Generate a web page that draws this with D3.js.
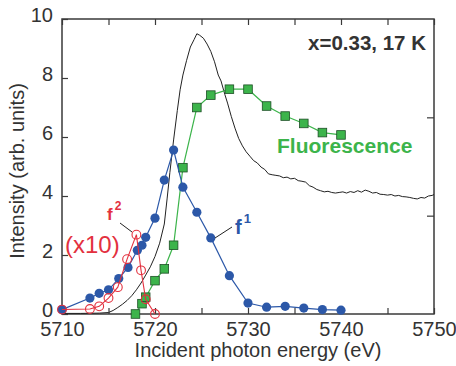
<!DOCTYPE html>
<html>
<head>
<meta charset="utf-8">
<script src="https://cdn.jsdelivr.net/npm/d3@7"></script>
<style>
  body { margin: 0; background: #fff; }
  text { font-family: "Liberation Sans", Arial, sans-serif; }
</style>
</head>
<body>
<svg id="chart" width="456" height="366"></svg>
<script>
// f1 (blue filled circles)
const f1Energy = [5710, 5713, 5714, 5715, 5716.1, 5717.1, 5718.1, 5718.6, 5719, 5720, 5721, 5722, 5723, 5724.5, 5726, 5728, 5730, 5732, 5734, 5736, 5738, 5740];
const f1Value = [0.15, 0.54, 0.7, 0.82, 1.2, 1.58, 2.16, 2.33, 2.6, 3.25, 4.54, 5.56, 4.3, 3.45, 2.58, 1.3, 0.37, 0.23, 0.26, 0.2, 0.15, 0.13];

// f2 x10 (red open circles)
const f2Energy = [5710, 5713, 5714, 5715, 5716, 5717, 5718, 5718.5, 5719, 5720];
const f2Value = [0.15, 0.17, 0.26, 0.54, 0.91, 1.86, 2.69, 1.48, 0.5, 0.0];

// fluorescence (green squares)
const flEnergy = [5717.9, 5718.6, 5719, 5720, 5721, 5722, 5723, 5724.5, 5726, 5728, 5730, 5732, 5734, 5736, 5738, 5740];
const flValue = [0.0, 0.35, 0.57, 1.13, 1.53, 2.33, 4.96, 7.0, 7.42, 7.62, 7.62, 7.05, 6.71, 6.46, 6.15, 6.07];

// absorption spectrum (black line)
const xasEnergy = [5710, 5712, 5714, 5715, 5715.5, 5716, 5716.5, 5717, 5717.5, 5718, 5718.5, 5719, 5719.5, 5720, 5720.5, 5721, 5721.3, 5721.6, 5722, 5722.4, 5722.7, 5723, 5723.4, 5723.8, 5724.2, 5724.5, 5724.8, 5725.2, 5725.6, 5726, 5726.4, 5726.8, 5727.1, 5727.5, 5727.8, 5728.2, 5728.6, 5729, 5729.4, 5729.8, 5730.2, 5730.6, 5731, 5731.4, 5731.8, 5732.2, 5732.6, 5733, 5733.4, 5733.8, 5734.2, 5734.6, 5735, 5735.4, 5735.8, 5736.2, 5736.6, 5737, 5737.4, 5737.8, 5738.2, 5738.6, 5739, 5739.4, 5739.8, 5740.2, 5740.6, 5741, 5741.4, 5741.8, 5742.2, 5742.6, 5743, 5743.4, 5743.8, 5744.2, 5744.6, 5745, 5745.4, 5745.8, 5746.2, 5746.6, 5747, 5747.4, 5747.8, 5748.2, 5748.6, 5749, 5749.4, 5749.8, 5750];
const xasValue = [0.02, 0.02, 0.03, 0.05, 0.12, 0.22, 0.33, 0.46, 0.62, 0.82, 1.05, 1.32, 1.6, 1.95, 2.4, 3.05, 3.9, 4.8, 5.9, 6.9, 7.6, 8.1, 8.6, 9.05, 9.3, 9.5, 9.45, 9.35, 9.15, 8.9, 8.55, 8.1, 7.9, 7.45, 7.15, 6.7, 6.3, 5.95, 5.7, 5.5, 5.35, 5.2, 5.12, 4.98, 4.9, 4.75, 4.72, 4.7, 4.68, 4.62, 4.64, 4.58, 4.6, 4.52, 4.5, 4.47, 4.35, 4.3, 4.22, 4.18, 4.14, 4.16, 4.12, 4.1, 4.12, 4.14, 4.1, 4.15, 4.12, 4.18, 4.13, 4.2, 4.16, 4.1, 4.12, 4.06, 4.05, 4.03, 4.05, 4.0, 4.02, 3.98, 3.97, 3.95, 3.92, 3.9, 3.95, 3.93, 4.0, 4.02, 4.05];

const xTicks = d3.range(5710, 5751, 5);
const yTicks = [0, 2, 4, 6, 8, 10];
const rightTicks = [10 / 3, 20 / 3];

const svg = d3.select('#chart');
const margin = { left: 62, right: 22, top: 19, bottom: 52 };
const width = 456, height = 366;

const x = d3.scaleLinear().domain([5710, 5750]).range([margin.left, width - margin.right]);
const y = d3.scaleLinear().domain([0, 10]).range([height - margin.bottom, margin.top]);

const axisColor = '#3a3a3a';
const blue = '#2c58a8', red = '#e3303e', green = '#3cb44b';

const zip = (a, b) => a.map((v, i) => [v, b[i]]);
const line = d3.line().x(d => x(d[0])).y(d => y(d[1]));

// axes
const styleAxis = g => {
  g.select('.domain').remove();
  g.selectAll('line').attr('stroke', axisColor).attr('stroke-width', 1.2);
  g.selectAll('text').attr('fill', '#333').style('font-size', '20px');
  g.selectAll('text').filter(function () { return this.textContent === ''; }).remove();
};

svg.append('g')
  .attr('transform', `translate(0,${y(0)})`)
  .call(d3.axisBottom(x).tickValues(xTicks).tickSizeInner(-6).tickSizeOuter(0).tickPadding(8)
    .tickFormat(d => d % 10 === 0 ? d : ''))
  .call(styleAxis);

svg.append('g')
  .attr('transform', `translate(0,${y(10)})`)
  .call(d3.axisTop(x).tickValues(xTicks).tickSizeInner(-6).tickSizeOuter(0).tickFormat(''))
  .call(styleAxis);

svg.append('g')
  .attr('transform', `translate(${x(5710)},0)`)
  .call(d3.axisLeft(y).tickValues(yTicks).tickSizeInner(-6).tickSizeOuter(0).tickPadding(9))
  .call(styleAxis)
  .call(g => g.selectAll('text').attr('dy', '0.12em'));

svg.append('g')
  .attr('transform', `translate(${x(5750)},0)`)
  .call(d3.axisRight(y).tickValues(rightTicks).tickSizeInner(-7).tickSizeOuter(0).tickFormat(''))
  .call(styleAxis);

svg.append('rect')
  .attr('x', x(5710)).attr('y', y(10))
  .attr('width', x(5750) - x(5710)).attr('height', y(0) - y(10))
  .attr('fill', 'none').attr('stroke', axisColor).attr('stroke-width', 1.5);

// axis titles
svg.append('text')
  .attr('x', (x(5710) + x(5750)) / 2 + 10).attr('y', 357)
  .attr('text-anchor', 'middle').attr('fill', '#333').style('font-size', '20px')
  .text('Incident photon energy (eV)');

svg.append('text')
  .attr('transform', 'translate(24,171) rotate(-90)')
  .attr('text-anchor', 'middle').attr('fill', '#333').style('font-size', '20px')
  .text('Intensity (arb. units)');

// black spectrum
svg.append('path')
  .datum(zip(xasEnergy, xasValue))
  .attr('d', line)
  .attr('fill', 'none').attr('stroke', '#222').attr('stroke-width', 1);

// fluorescence
const fl = zip(flEnergy, flValue);
svg.append('path').datum(fl).attr('d', line)
  .attr('fill', 'none').attr('stroke', green).attr('stroke-width', 1.2);
svg.append('g').selectAll('rect').data(fl).join('rect')
  .attr('x', d => x(d[0]) - 4.3).attr('y', d => y(d[1]) - 4.3)
  .attr('width', 8.6).attr('height', 8.6)
  .attr('fill', green).attr('stroke', '#1d4f26').attr('stroke-width', 0.8);

// f1
const f1 = zip(f1Energy, f1Value);
svg.append('path').datum(f1).attr('d', line)
  .attr('fill', 'none').attr('stroke', blue).attr('stroke-width', 1.2);
svg.append('g').selectAll('circle').data(f1).join('circle')
  .attr('cx', d => x(d[0])).attr('cy', d => y(d[1])).attr('r', 4.6)
  .attr('fill', blue);

// f2
const f2 = zip(f2Energy, f2Value);
svg.append('path').datum(f2).attr('d', line)
  .attr('fill', 'none').attr('stroke', red).attr('stroke-width', 1.1);
svg.append('g').selectAll('circle').data(f2).join('circle')
  .attr('cx', d => x(d[0])).attr('cy', d => y(d[1])).attr('r', 4.4)
  .attr('fill', 'none').attr('stroke', red).attr('stroke-width', 1.1);

// leader lines
svg.append('line').attr('x1', 120).attr('y1', 223).attr('x2', 132).attr('y2', 232)
  .attr('stroke', '#222').attr('stroke-width', 1);
svg.append('line').attr('x1', 215).attr('y1', 238).attr('x2', 232).attr('y2', 227)
  .attr('stroke', '#222').attr('stroke-width', 1);

// labels
svg.append('text').attr('x', 426).attr('y', 50).attr('text-anchor', 'end')
  .attr('fill', '#333').style('font-size', '20.5px').style('font-weight', 'bold')
  .text('x=0.33, 17 K');

svg.append('text').attr('x', 277).attr('y', 153)
  .attr('fill', green).style('font-size', '21px').style('font-weight', 'bold')
  .text('Fluorescence');

const f1Label = svg.append('text').attr('x', 235).attr('y', 234)
  .attr('fill', blue).style('font-size', '20px').style('font-weight', 'bold');
f1Label.append('tspan').text('f');
f1Label.append('tspan').attr('dx', 2).attr('dy', -11).style('font-size', '13px').text('1');

const f2Label = svg.append('text').attr('x', 107).attr('y', 220)
  .attr('fill', red).style('font-size', '17px').style('font-weight', 'bold');
f2Label.append('tspan').text('f');
f2Label.append('tspan').attr('dx', 2).attr('dy', -10).style('font-size', '12px').text('2');

svg.append('text').attr('x', 65).attr('y', 253)
  .attr('fill', red).style('font-size', '24px')
  .text('(x10)');
</script>
</body>
</html>
